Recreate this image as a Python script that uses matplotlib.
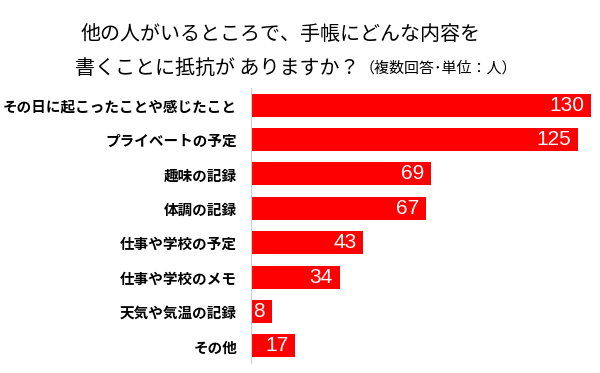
import matplotlib
matplotlib.use("Agg")
import matplotlib.pyplot as plt

plt.rcParams['font.family'] = ['Noto Sans CJK JP', 'DejaVu Sans']

labels = ["その日に起こったことや感じたこと", "プライベートの予定", "趣味の記録", "体調の記録",
          "仕事や学校の予定", "仕事や学校のメモ", "天気や気温の記録", "その他"]
values = [130, 125, 69, 67, 43, 34, 8, 17]

fig = plt.figure(figsize=(6, 3.73), dpi=100)
ax = fig.add_axes([251/600, 1-363/373, 349/600, 275/373])

y = range(len(labels))
ax.barh(y, values, height=0.67, color="#ff0000")
ax.set_xlim(0, 133.5)
ax.set_ylim(len(labels)-0.5, -0.5)

for i, v in enumerate(values):
    ax.annotate(str(v), (v, i), xytext=(-5, 0), textcoords="offset points",
                ha="right", va="center", color="white", fontsize=15,
                family=["Liberation Sans", "DejaVu Sans"])

ax.set_yticks(list(y))
ax.set_yticklabels(labels, fontsize=10.5, fontweight="bold")
ax.tick_params(axis="y", length=0, pad=10)
ax.set_xticks([])
for s in ["top", "right", "bottom"]:
    ax.spines[s].set_visible(False)
ax.spines["left"].set_color("#d0d0d0")

fig.text(281/600, 1-35/373, "他の人がいるところで、手帳にどんな内容を",
         ha="center", va="center", fontsize=14.4)
fig.text(75/600, 1-68/373, "書くことに抵抗が ありますか？",
         ha="left", va="center", fontsize=14.4)
fig.text(360/600, 1-68/373, "（複数回答･単位：人）",
         ha="left", va="center", fontsize=10.8)

fig.savefig("out.png", dpi=100)
